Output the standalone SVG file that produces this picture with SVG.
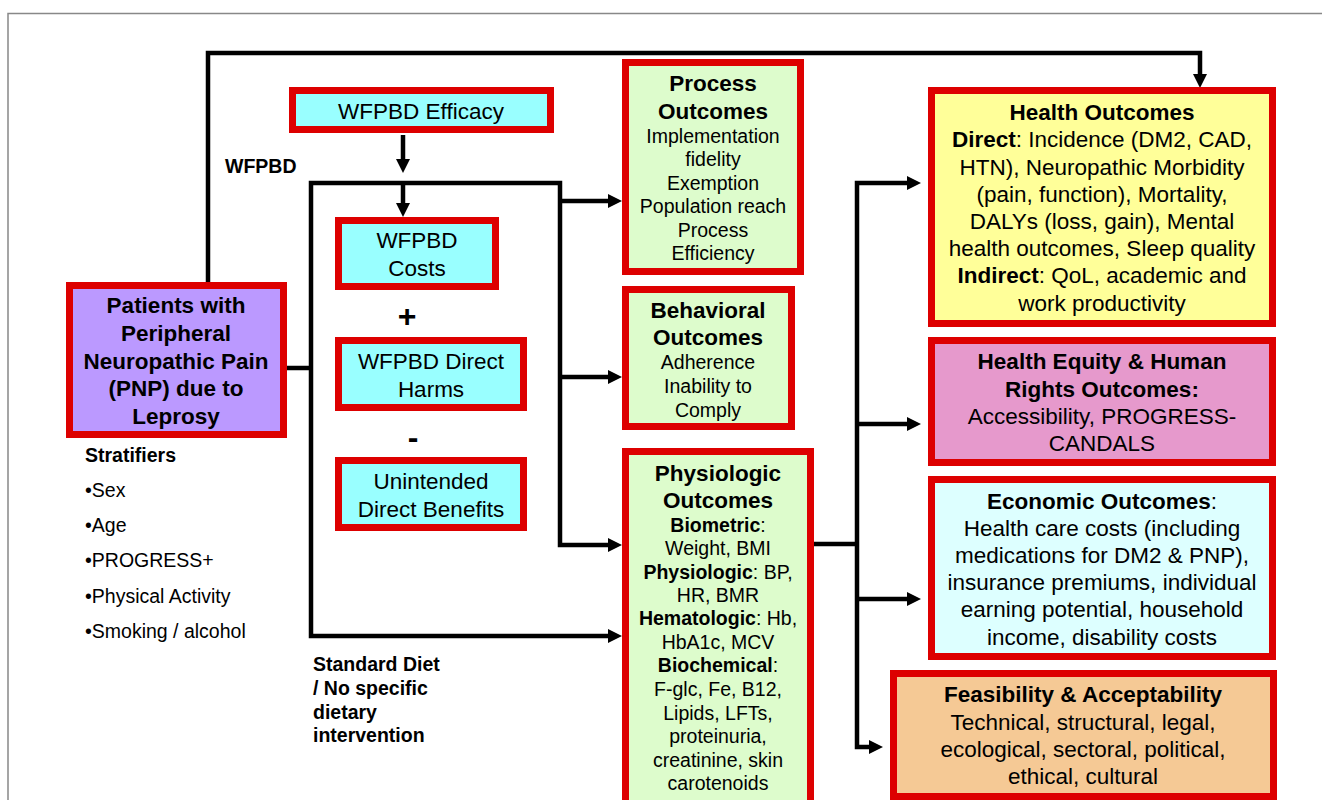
<svg xmlns="http://www.w3.org/2000/svg" width="1322" height="800" viewBox="0 0 1322 800">
<defs>
<style>
.box{stroke:#dd0000;stroke-width:7}
.cy{fill:#99ffff}
.pu{fill:#bb99ff}
.gr{fill:#ddfccc}
.ye{fill:#ffff99}
.pk{fill:#e699cc}
.lc{fill:#ddffff}
.or{fill:#f5c995}
text{font-family:"Liberation Sans",Arial,sans-serif;fill:#000}
.t{font-size:22.5px;text-anchor:middle}
.s{font-size:19.5px;text-anchor:middle}
.l{font-size:19.5px}
.b{font-weight:bold}
.conn{fill:none;stroke:#000;stroke-width:4.5;stroke-linejoin:miter}
</style>
<marker id="ah" viewBox="0 0 14 14" markerWidth="14" markerHeight="14" refX="1" refY="7" orient="auto-start-reverse" markerUnits="userSpaceOnUse">
<path d="M0,0 L14,7 L0,14 z" fill="#000"/>
</marker>
</defs>
<rect x="0" y="0" width="1322" height="800" fill="#fff"/>
<path d="M8,800 V13.5 H1322" fill="none" stroke="#888" stroke-width="1.5"/>

<g id="connectors">
<path class="conn" d="M208,283 V53 H1200 V75" marker-end="url(#ah)"/>
<path class="conn" d="M403,135 V160" marker-end="url(#ah)"/>
<path class="conn" d="M287,368 H311"/>
<path class="conn" d="M609,636 H311 V183 H560 V545 H609" marker-start="url(#ah)" marker-end="url(#ah)"/>
<path class="conn" d="M403,183 V204" marker-end="url(#ah)"/>
<path class="conn" d="M560,201 H609" marker-end="url(#ah)"/>
<path class="conn" d="M560,377 H609" marker-end="url(#ah)"/>
<path class="conn" d="M814,544 H857"/>
<path class="conn" d="M870,747 H857 V183 H908" marker-start="url(#ah)" marker-end="url(#ah)"/>
<path class="conn" d="M857,424 H908" marker-end="url(#ah)"/>
<path class="conn" d="M857,599 H908" marker-end="url(#ah)"/>
</g>

<g id="efficacy">
<rect class="box cy" x="292.5" y="90.5" width="258" height="39"/>
<text class="t" x="421" y="119">WFPBD Efficacy</text>
</g>
<text id="wfpbd-label" class="l b" x="225" y="173">WFPBD</text>

<g id="costs">
<rect class="box cy" x="338.5" y="220.5" width="157" height="66"/>
<text class="t" x="417" y="248">WFPBD</text>
<text class="t" x="417" y="276">Costs</text>
</g>
<text id="plus" x="407" y="327" style="font-size:32px;font-weight:bold;text-anchor:middle">+</text>
<g id="harms">
<rect class="box cy" x="338.5" y="340.5" width="185" height="67"/>
<text class="t" x="431" y="369">WFPBD Direct</text>
<text class="t" x="431" y="397">Harms</text>
</g>
<text id="minus" x="413" y="448" style="font-size:32px;font-weight:bold;text-anchor:middle">-</text>
<g id="unintended">
<rect class="box cy" x="338.5" y="460.5" width="185" height="67"/>
<text class="t" x="431" y="489">Unintended</text>
<text class="t" x="431" y="517">Direct Benefits</text>
</g>

<g id="patients">
<rect class="box pu" x="69.5" y="285.5" width="214" height="149"/>
<text class="t b" x="176" y="313">Patients with</text>
<text class="t b" x="176" y="341">Peripheral</text>
<text class="t b" x="176" y="369">Neuropathic Pain</text>
<text class="t b" x="176" y="396">(PNP) due to</text>
<text class="t b" x="176" y="424">Leprosy</text>
</g>

<g id="stratifiers">
<text class="l b" x="85" y="462">Stratifiers</text>
<text class="l" x="85" y="497">•Sex</text>
<text class="l" x="85" y="532">•Age</text>
<text class="l" x="85" y="567">•PROGRESS+</text>
<text class="l" x="85" y="603">•Physical Activity</text>
<text class="l" x="85" y="638">•Smoking / alcohol</text>
</g>

<g id="standard-diet">
<text class="l b" x="313" y="671">Standard Diet</text>
<text class="l b" x="313" y="695">/ No specific</text>
<text class="l b" x="313" y="719">dietary</text>
<text class="l b" x="313" y="742">intervention</text>
</g>

<g id="process">
<rect class="box gr" x="625.5" y="62.5" width="175" height="209"/>
<text class="t b" x="713" y="91">Process</text>
<text class="t b" x="713" y="119">Outcomes</text>
<text class="s" x="713" y="143">Implementation</text>
<text class="s" x="713" y="166">fidelity</text>
<text class="s" x="713" y="190">Exemption</text>
<text class="s" x="713" y="213">Population reach</text>
<text class="s" x="713" y="237">Process</text>
<text class="s" x="713" y="260">Efficiency</text>
</g>

<g id="behavioral">
<rect class="box gr" x="625.5" y="289.5" width="166" height="137"/>
<text class="t b" x="708" y="318">Behavioral</text>
<text class="t b" x="708" y="345">Outcomes</text>
<text class="s" x="708" y="369">Adherence</text>
<text class="s" x="708" y="393">Inability to</text>
<text class="s" x="708" y="417">Comply</text>
</g>

<g id="physiologic">
<rect class="box gr" x="625.5" y="451.5" width="185" height="360"/>
<text class="t b" x="718" y="481">Physiologic</text>
<text class="t b" x="718" y="508">Outcomes</text>
<text class="s" x="718" y="532"><tspan class="b">Biometric</tspan>:</text>
<text class="s" x="718" y="555">Weight, BMI</text>
<text class="s" x="718" y="579"><tspan class="b">Physiologic</tspan>: BP,</text>
<text class="s" x="718" y="602">HR, BMR</text>
<text class="s" x="718" y="625"><tspan class="b">Hematologic</tspan>: Hb,</text>
<text class="s" x="718" y="649">HbA1c, MCV</text>
<text class="s" x="718" y="672"><tspan class="b">Biochemical</tspan>:</text>
<text class="s" x="718" y="696">F-glc, Fe, B12,</text>
<text class="s" x="718" y="720">Lipids, LFTs,</text>
<text class="s" x="718" y="743">proteinuria,</text>
<text class="s" x="718" y="767">creatinine, skin</text>
<text class="s" x="718" y="790">carotenoids</text>
</g>

<g id="health">
<rect class="box ye" x="931.5" y="90.5" width="341" height="233"/>
<text class="t b" x="1102" y="120">Health Outcomes</text>
<text class="t" x="1102" y="147"><tspan class="b">Direct</tspan>: Incidence (DM2, CAD,</text>
<text class="t" x="1102" y="175">HTN), Neuropathic Morbidity</text>
<text class="t" x="1102" y="202">(pain, function), Mortality,</text>
<text class="t" x="1102" y="229">DALYs (loss, gain), Mental</text>
<text class="t" x="1102" y="256">health outcomes, Sleep quality</text>
<text class="t" x="1102" y="283"><tspan class="b">Indirect</tspan>: QoL, academic and</text>
<text class="t" x="1102" y="311">work productivity</text>
</g>

<g id="equity">
<rect class="box pk" x="931.5" y="340.5" width="341" height="122"/>
<text class="t b" x="1102" y="369">Health Equity &amp; Human</text>
<text class="t b" x="1102" y="397">Rights Outcomes:</text>
<text class="t" x="1102" y="424">Accessibility, PROGRESS-</text>
<text class="t" x="1102" y="451">CANDALS</text>
</g>

<g id="economic">
<rect class="box lc" x="931.5" y="479.5" width="341" height="177"/>
<text class="t" x="1102" y="509"><tspan class="b">Economic Outcomes</tspan>:</text>
<text class="t" x="1102" y="536">Health care costs (including</text>
<text class="t" x="1102" y="563">medications for DM2 &amp; PNP),</text>
<text class="t" x="1102" y="590">insurance premiums, individual</text>
<text class="t" x="1102" y="617">earning potential, household</text>
<text class="t" x="1102" y="645">income, disability costs</text>
</g>

<g id="feasibility">
<rect class="box or" x="893.5" y="673.5" width="380" height="123"/>
<text class="t b" x="1083" y="702">Feasibility &amp; Acceptability</text>
<text class="t" x="1083" y="730">Technical, structural, legal,</text>
<text class="t" x="1083" y="757">ecological, sectoral, political,</text>
<text class="t" x="1083" y="784">ethical, cultural</text>
</g>
</svg>
